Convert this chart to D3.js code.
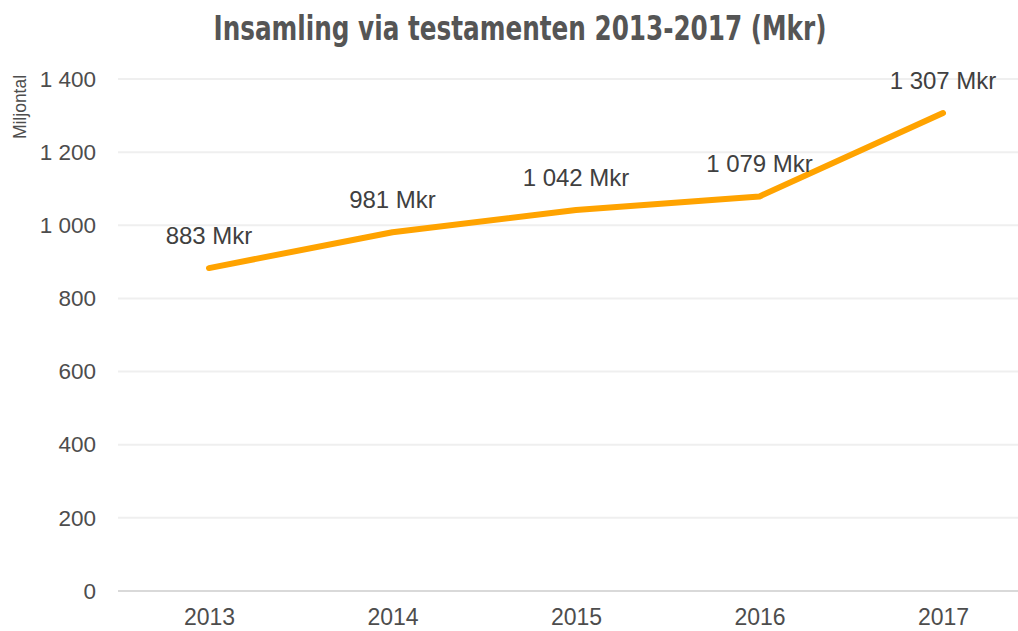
<!DOCTYPE html>
<html>
<head>
<meta charset="utf-8">
<script src="https://cdn.jsdelivr.net/npm/d3@7"></script>
<style>
  body { margin: 0; background: #fff; }
  svg { display: block; font-family: "Liberation Sans", Arial, Helvetica, sans-serif; }
</style>
</head>
<body>
<svg width="1018" height="631"></svg>
<script>
const years = ["2013", "2014", "2015", "2016", "2017"];
const values = [883, 981, 1042, 1079, 1307];
const labels = ["883 Mkr", "981 Mkr", "1 042 Mkr", "1 079 Mkr", "1 307 Mkr"];
const yTicks = [0, 200, 400, 600, 800, 1000, 1200, 1400];

const svg = d3.select("svg"),
  width = +svg.attr("width"),
  height = +svg.attr("height");

const plotLeft = 118, plotRight = 1018, plotTop = 79, plotBottom = 591;

const x = d3.scalePoint()
  .domain(years)
  .range([209, 943]);

const y = d3.scaleLinear()
  .domain([0, 1400])
  .range([plotBottom, plotTop]);

// spaces as thousand separator
const fmt = v => d3.format(",")(v).replace(/,/g, " ");

// gridlines
svg.append("g")
  .selectAll("line")
  .data(yTicks)
  .join("line")
  .attr("x1", plotLeft)
  .attr("x2", plotRight)
  .attr("y1", d => y(d))
  .attr("y2", d => y(d))
  .attr("stroke", d => d === 0 ? "#d9d9d9" : "#efefef")
  .attr("stroke-width", 2);

// y axis labels
const yAxis = svg.append("g")
  .attr("transform", `translate(96,0)`)
  .call(d3.axisLeft(y).tickValues(yTicks).tickFormat(fmt).tickSize(0).tickPadding(0));
yAxis.select(".domain").remove();
yAxis.selectAll("text")
  .attr("fill", "#4d4d4d")
  .style("font-size", "22.5px")
  .style("font-family", "Liberation Sans, Arial, sans-serif");

// x axis labels
const xAxis = svg.append("g")
  .attr("transform", `translate(0,${plotBottom + 18})`)
  .call(d3.axisBottom(x).tickSize(0).tickPadding(0));
xAxis.select(".domain").remove();
xAxis.selectAll("text")
  .attr("fill", "#4d4d4d")
  .attr("dy", "0.71em")
  .style("font-size", "23px")
  .style("font-family", "Liberation Sans, Arial, sans-serif");

// axis title
svg.append("text")
  .attr("transform", "translate(26,107) rotate(-90)")
  .attr("text-anchor", "middle")
  .attr("fill", "#4d4d4d")
  .style("font-size", "17.5px")
  .text("Miljontal");

// line
const data = years.map((d, i) => ({ year: d, value: values[i], label: labels[i] }));

svg.append("path")
  .datum(data)
  .attr("fill", "none")
  .attr("stroke", "#ffa300")
  .attr("stroke-width", 6)
  .attr("stroke-linecap", "round")
  .attr("stroke-linejoin", "round")
  .attr("d", d3.line().x(d => x(d.year)).y(d => y(d.value)));

// data labels
svg.append("g")
  .selectAll("text")
  .data(data)
  .join("text")
  .attr("x", d => x(d.year))
  .attr("y", d => y(d.value) - 24)
  .attr("text-anchor", "middle")
  .attr("fill", "#404040")
  .style("font-size", "24px")
  .text(d => d.label);

// title, squeezed to the condensed width of the reference
svg.append("text")
  .attr("x", 520)
  .attr("y", 40)
  .attr("text-anchor", "middle")
  .attr("fill", "#555")
  .attr("textLength", 613)
  .attr("lengthAdjust", "spacingAndGlyphs")
  .style("font-family", "'DejaVu Sans Condensed', 'DejaVu Sans', sans-serif")
  .style("font-stretch", "condensed")
  .style("font-weight", "bold")
  .style("font-size", "33px")
  .text("Insamling via testamenten 2013-2017 (Mkr)");
</script>
</body>
</html>
